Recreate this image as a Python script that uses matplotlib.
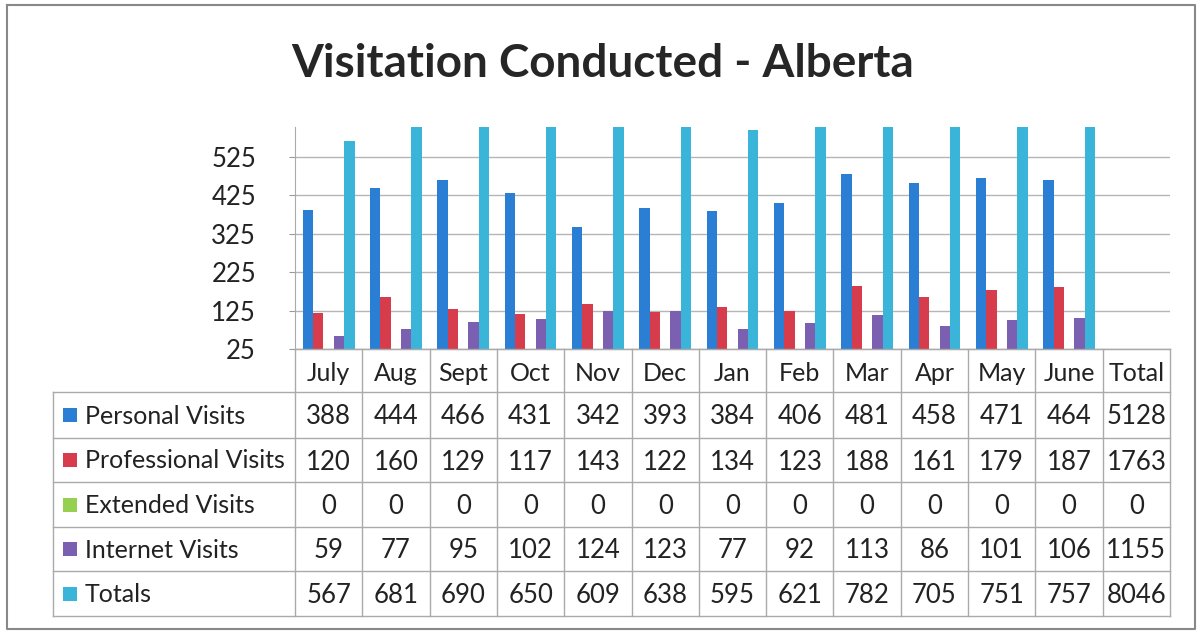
import matplotlib
matplotlib.use("Agg")
import matplotlib.pyplot as plt
import numpy as np

categories = ["July", "Aug", "Sept", "Oct", "Nov", "Dec", "Jan", "Feb", "Mar", "Apr", "May", "June", "Total"]
series_names = ["Personal Visits", "Professional Visits", "Extended Visits", "Internet Visits", "Totals"]
personal = [388, 444, 466, 431, 342, 393, 384, 406, 481, 458, 471, 464, 5128]
professional = [120, 160, 129, 117, 143, 122, 134, 123, 188, 161, 179, 187, 1763]
extended = [0, 0, 0, 0, 0, 0, 0, 0, 0, 0, 0, 0, 0]
internet = [59, 77, 95, 102, 124, 123, 77, 92, 113, 86, 101, 106, 1155]
totals = [567, 681, 690, 650, 609, 638, 595, 621, 782, 705, 751, 757, 8046]
series = [personal, professional, extended, internet, totals]
colors = ["#2a7fd4", "#d63c4c", "#96d050", "#7b5fb0", "#3ab4d8"]
yticks = [25, 125, 225, 325, 425, 525]
title = "Visitation Conducted - Alberta"

W, H = 1199, 633
fig = plt.figure(figsize=(W / 100, H / 100), dpi=100)
FONT = "Lato"
TXT = "#222222"

# pixel layout
ax_l, ax_r, ax_t, ax_b = 295, 1170, 127, 349
ax = fig.add_axes([ax_l / W, 1 - ax_b / H, (ax_r - ax_l) / W, (ax_b - ax_t) / H])
ncat = len(categories)
nmonths = 12
x = np.arange(nmonths)
bw = 1 / (len(series) + 1.5)
for i, (vals, c) in enumerate(zip(series, colors)):
    offs = (i - (len(series) - 1) / 2) * bw
    ax.bar(x + offs, vals[:nmonths], width=bw, color=c, zorder=3, linewidth=0)
ax.set_xlim(-0.5, ncat - 0.5)
ax.set_ylim(25, 603)
ax.set_yticks(yticks)
ax.set_yticklabels([str(v) for v in yticks], fontsize=18.5, family=FONT, color=TXT)
ax.tick_params(axis="y", length=4, color="#999999", pad=24)
ax.tick_params(axis="x", length=0, labelbottom=False)
ax.grid(axis="y", color="#b5b5b5", linewidth=1, zorder=0)
for s in ["top", "right"]:
    ax.spines[s].set_visible(False)
ax.spines["left"].set_color("#aaaaaa")
ax.spines["bottom"].set_color("#999999")

# overlay in pixel coordinates
ov = fig.add_axes([0, 0, 1, 1], zorder=5)
ov.set_xlim(0, W)
ov.set_ylim(H, 0)
ov.axis("off")
ov.patch.set_alpha(0)

# frame
ov.plot([7, 1195, 1195, 7, 7], [5, 5, 629, 629, 5], color="#888888", lw=1.5)

ov.text(603, 64, title, ha="center", va="center", fontsize=33, fontweight="bold",
        family=FONT, color="#262626")

# table
colw = (ax_r - ax_l) / ncat
tab_l = 53
row_edges = [349, 392, 438, 482, 527, 571, 616]
lc = "#aaaaaa"
ov.plot([ax_l, ax_r], [row_edges[0], row_edges[0]], color=lc, lw=1)
for y in row_edges[1:]:
    ov.plot([tab_l, ax_r], [y, y], color=lc, lw=1)
ov.plot([tab_l, tab_l], [row_edges[1], row_edges[-1]], color=lc, lw=1)
for j in range(ncat + 1):
    xx = ax_l + j * colw
    ov.plot([xx, xx], [row_edges[0], row_edges[-1]], color=lc, lw=1)
for j, cat in enumerate(categories):
    cx = ax_l + (j + 0.5) * colw
    ov.text(cx, (row_edges[0] + row_edges[1]) / 2 + 3, cat, ha="center", va="center",
            fontsize=18, family=FONT, color=TXT)
for i, (name, vals, c) in enumerate(zip(series_names, series, colors)):
    cy = (row_edges[i + 1] + row_edges[i + 2]) / 2
    ov.add_patch(plt.Rectangle((63, cy - 7), 14, 14, color=c, lw=0))
    ov.text(85, cy + 1, name, ha="left", va="center", fontsize=18, family=FONT, color=TXT)
    for j, v in enumerate(vals):
        cx = ax_l + (j + 0.5) * colw
        ov.text(cx, cy + 2, str(v), ha="center", va="center", fontsize=18.5, family=FONT,
                color=TXT)

fig.savefig("out.png", dpi=100, facecolor="white")
